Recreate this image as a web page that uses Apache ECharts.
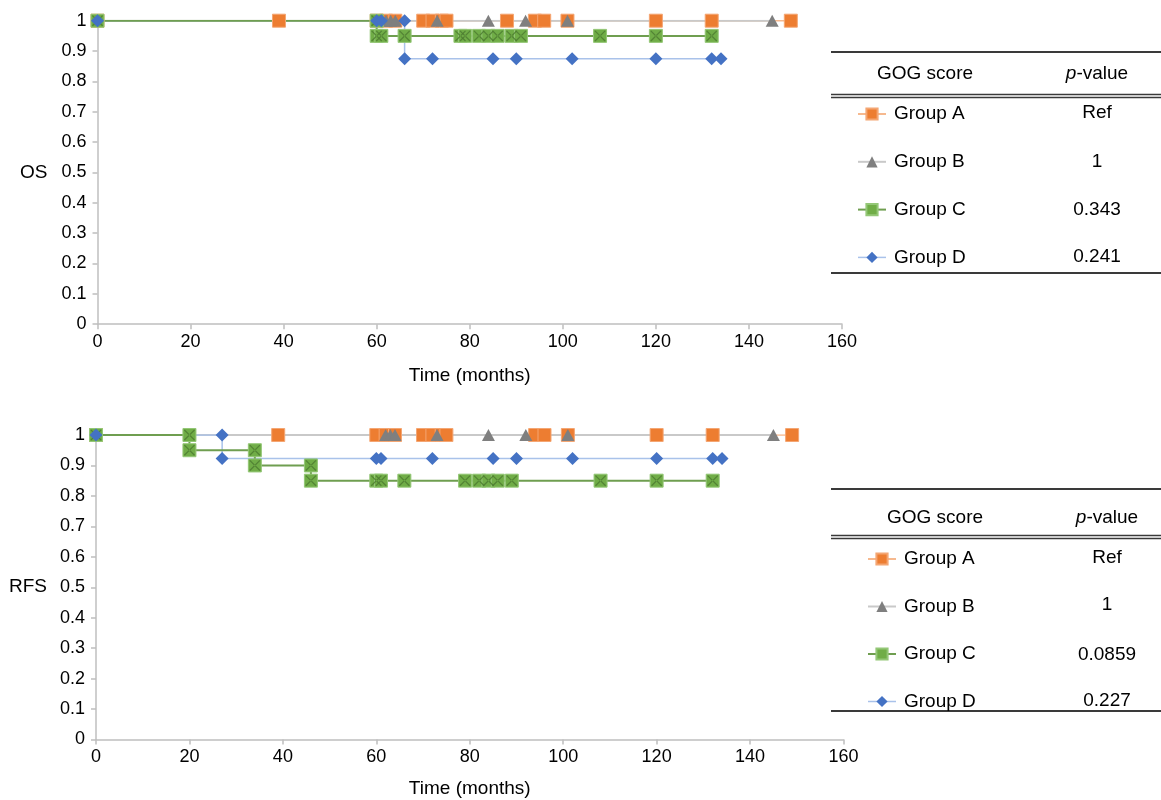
<!DOCTYPE html>
<html>
<head>
<meta charset="utf-8">
<script src="https://cdn.jsdelivr.net/npm/echarts@6/dist/echarts.min.js"></script>
<style>
  html, body { margin: 0; padding: 0; background: #fff; }
  #chart { width: 1161px; height: 800px; }
</style>
</head>
<body>
<div id="chart"></div>
<script>
// ---------- DATA ----------
const groups = ['Group A', 'Group B', 'Group C', 'Group D'];
const xTicks = [0, 20, 40, 60, 80, 100, 120, 140, 160];
const yTicks = [0, 0.1, 0.2, 0.3, 0.4, 0.5, 0.6, 0.7, 0.8, 0.9, 1];

// Overall survival (OS): [time (months), survival]
const osGroupA = [[0,1],[39,1],[60,1],[62,1],[64,1],[70,1],[72,1],[74,1],[75,1],[88,1],[94,1],[96,1],[101,1],[120,1],[132,1],[149,1]];
const osGroupB = [[0,1],[62,1],[63,1],[64,1],[73,1],[84,1],[92,1],[101,1],[145,1]];
const osGroupC = [[0,1],[60,1],[60,0.95],[61,0.95],[66,0.95],[78,0.95],[79,0.95],[82,0.95],[84,0.95],[86,0.95],[89,0.95],[91,0.95],[108,0.95],[120,0.95],[132,0.95]];
const osGroupD = [[0,1],[60,1],[61,1],[66,1],[66,0.875],[72,0.875],[85,0.875],[90,0.875],[102,0.875],[120,0.875],[132,0.875],[134,0.875]];
const osPValues = ['Ref', '1', '0.343', '0.241'];

// Recurrence-free survival (RFS)
const rfsGroupA = [[0,1],[39,1],[60,1],[62,1],[64,1],[70,1],[72,1],[74,1],[75,1],[94,1],[96,1],[101,1],[120,1],[132,1],[149,1]];
const rfsGroupB = [[0,1],[62,1],[63,1],[64,1],[73,1],[84,1],[92,1],[101,1],[145,1]];
const rfsGroupC = [[0,1],[20,1],[20,0.95],[34,0.95],[34,0.9],[46,0.9],[46,0.85],[60,0.85],[61,0.85],[66,0.85],[79,0.85],[82,0.85],[84,0.85],[86,0.85],[89,0.85],[108,0.85],[120,0.85],[132,0.85]];
const rfsGroupD = [[0,1],[27,1],[27,0.923],[60,0.923],[61,0.923],[72,0.923],[85,0.923],[90,0.923],[102,0.923],[120,0.923],[132,0.923],[134,0.923]];
const rfsPValues = ['Ref', '1', '0.0859', '0.227'];

// ---------- STYLE ----------
const FONT = '"Liberation Sans", Arial, Helvetica, sans-serif';
const AXIS_COLOR = '#bfbfbf';
const X_PATH = 'path://M0,0.8 L0.8,0 L10,9.2 L9.2,10 Z M10,0.8 L9.2,0 L0,9.2 L0.8,10 Z';
const D_LINE = { color: '#a9c2ea', width: 1.5 };

function makeSeries(gi, A, B, C, D) {
  const base = { type: 'line', xAxisIndex: gi, yAxisIndex: gi, showAllSymbol: true, animation: false };
  return [
    Object.assign({}, base, { name: groups[0], data: A, symbol: 'rect', symbolSize: 13,
      lineStyle: { color: '#f6b98f', width: 1.5 },
      itemStyle: { color: '#ED7D31', borderColor: '#f4a673', borderWidth: 1 } }),
    Object.assign({}, base, { name: groups[1], data: B, symbol: 'triangle', symbolSize: [13, 12],
      lineStyle: { color: '#c9c9c9', width: 2 },
      itemStyle: { color: '#7f7f7f', borderWidth: 0 } }),
    Object.assign({}, base, { name: groups[3] + ' line', data: D, symbol: 'none', silent: true,
      lineStyle: D_LINE }),
    Object.assign({}, base, { name: groups[2], data: C, symbol: 'rect', symbolSize: 13,
      lineStyle: { color: '#6f9e50', width: 2 },
      itemStyle: { color: '#70AD47', borderColor: '#94c777', borderWidth: 1 } }),
    Object.assign({}, base, { name: groups[2] + ' x', data: C, symbol: X_PATH, symbolSize: 11, silent: true,
      lineStyle: { width: 0, opacity: 0 },
      itemStyle: { color: '#4e7c31', opacity: 0.85 } }),
    Object.assign({}, base, { name: groups[3], data: D, symbol: 'diamond', symbolSize: 13,
      lineStyle: { color: D_LINE.color, width: 0, opacity: 0 },
      itemStyle: { color: '#4472C4', borderWidth: 0 } })
  ];
}

function xAxisCfg(gi, gap) {
  return {
    type: 'value', gridIndex: gi, min: xTicks[0], max: xTicks[xTicks.length - 1], interval: xTicks[1] - xTicks[0],
    axisLine: { show: true, lineStyle: { color: AXIS_COLOR, width: 1.5 } },
    axisTick: { show: true, length: 5, lineStyle: { color: AXIS_COLOR, width: 1.5 } },
    splitLine: { show: false },
    axisLabel: { fontSize: 18, color: '#000', fontFamily: FONT, margin: 9 },
    name: 'Time (months)', nameLocation: 'middle', nameGap: gap,
    nameTextStyle: { fontSize: 19, color: '#000', fontFamily: FONT }
  };
}
function yAxisCfg(gi, name, gap) {
  return {
    type: 'value', gridIndex: gi, min: yTicks[0], max: yTicks[yTicks.length - 1], interval: 0.1,
    axisLine: { show: true, lineStyle: { color: AXIS_COLOR, width: 1.5 } },
    axisTick: { show: true, length: 5, lineStyle: { color: AXIS_COLOR, width: 1.5 } },
    splitLine: { show: false },
    axisLabel: { fontSize: 18, color: '#000', fontFamily: FONT, margin: 11,
      formatter: v => String(Math.round(v * 10) / 10) },
    name: name, nameLocation: 'middle', nameRotate: 0, nameGap: gap,
    nameTextStyle: { fontSize: 19, color: '#000', fontFamily: FONT }
  };
}

function legendCfg(left, top, gap) {
  return {
    orient: 'vertical', left: left, top: top, padding: 0, itemGap: gap, itemWidth: 28, itemHeight: 14,
    selectedMode: false,
    data: groups.map((g, i) => i === 3
      ? { name: g, lineStyle: { color: D_LINE.color, width: D_LINE.width, opacity: 1 } }
      : { name: g }),
    textStyle: { fontSize: 19, color: '#000', fontFamily: FONT, lineHeight: 20, padding: [0, 0, 0, 3] }
  };
}

function tableGraphics(t) {
  const els = [];
  const x1 = 831, x2 = 1161;
  const line = (y, w) => ({ type: 'line', shape: { x1: x1, y1: y, x2: x2, y2: y },
    style: { stroke: '#3a3a3a', lineWidth: w }, silent: true });
  els.push(line(t.top, 1.8));
  els.push(line(t.dbl, 1.3));
  els.push(line(t.dbl + 3, 1.3));
  els.push(line(t.bottom, 1.8));
  els.push({ type: 'text', x: t.gogX, y: t.header, silent: true,
    style: { text: 'GOG score', fontSize: 19, fontFamily: FONT, fill: '#000', align: 'center', verticalAlign: 'middle' } });
  els.push({ type: 'text', x: t.pX, y: t.header, silent: true,
    style: { text: '{i|p}-value', fontSize: 19, fontFamily: FONT, fill: '#000', align: 'center', verticalAlign: 'middle',
      rich: { i: { fontStyle: 'italic', fontSize: 19, fontFamily: FONT, fill: '#000' } } } });
  t.pvals.forEach((p, i) => {
    els.push({ type: 'text', x: t.pX, y: t.rows[i], silent: true,
      style: { text: p, fontSize: 19, fontFamily: FONT, fill: '#000', align: 'center', verticalAlign: 'middle' } });
  });
  return els;
}

const option = {
  animation: false,
  backgroundColor: '#fff',
  grid: [
    { left: 97.5, right: 1161 - 842, top: 20.7, height: 303.5 },
    { left: 96, right: 1161 - 843.5, top: 435, height: 304.5 }
  ],
  xAxis: [xAxisCfg(0, 42), xAxisCfg(1, 40)],
  yAxis: [yAxisCfg(0, 'OS', 50), yAxisCfg(1, 'RFS', 49)],
  legend: [legendCfg(857, 104, 27.8), legendCfg(867, 549, 27.5)],
  series: [].concat(
    makeSeries(0, osGroupA, osGroupB, osGroupC, osGroupD),
    makeSeries(1, rfsGroupA, rfsGroupB, rfsGroupC, rfsGroupD)
  ),
  graphic: [].concat(
    tableGraphics({ top: 52, dbl: 94.5, bottom: 273, header: 74, gogX: 925, pX: 1097,
      rows: [113.2, 161.5, 209.8, 256.8], pvals: osPValues }),
    tableGraphics({ top: 489, dbl: 535.5, bottom: 711, header: 518, gogX: 935, pX: 1107,
      rows: [558.2, 604.8, 654.8, 700.8], pvals: rfsPValues })
  )
};

const chart = echarts.init(document.getElementById('chart'), null, { renderer: 'canvas' });
chart.setOption(option);
</script>
</body>
</html>
